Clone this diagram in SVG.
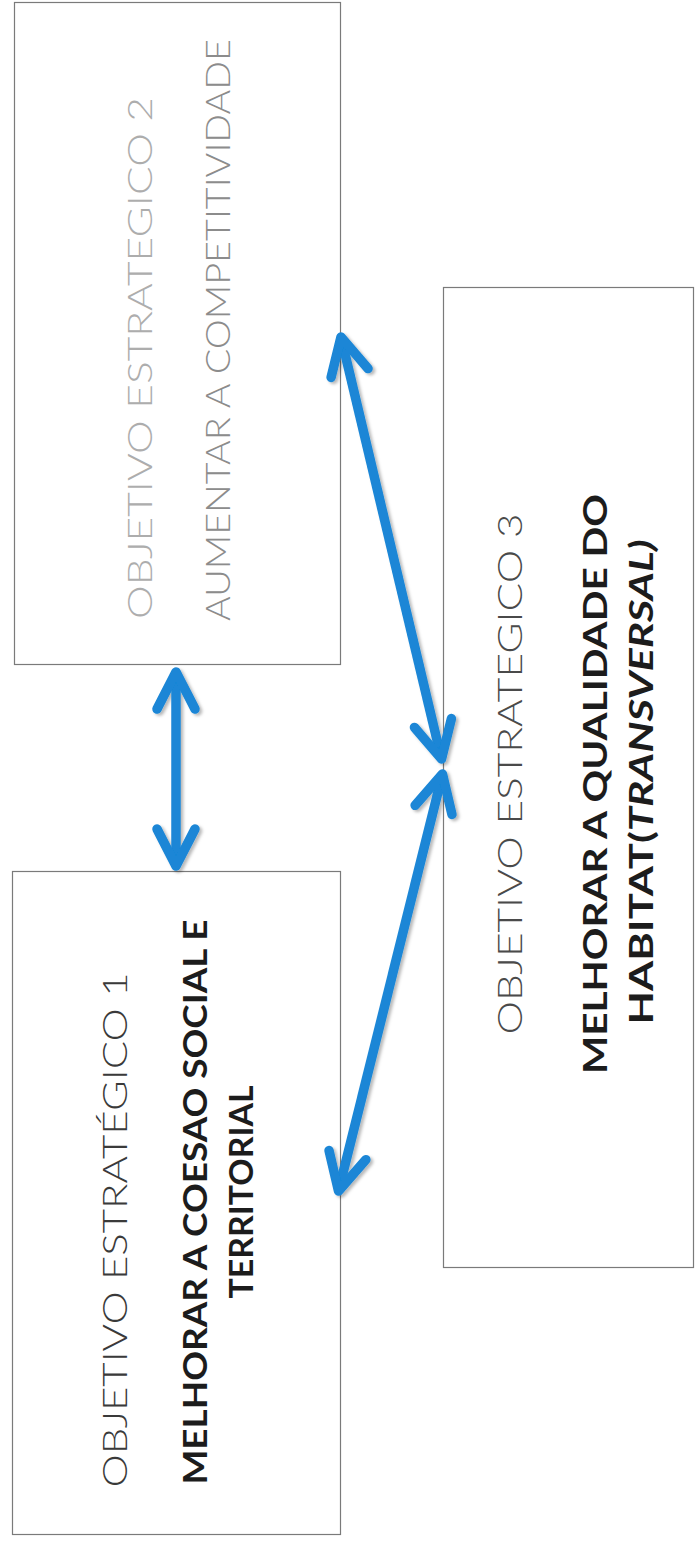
<svg xmlns="http://www.w3.org/2000/svg" width="696" height="1543" viewBox="0 0 696 1543">
  <style>
    .box { fill: #ffffff; stroke: #7a7a7a; stroke-width: 1.2; }
    .lt { font-family: Lato, "Open Sans", "Liberation Sans", sans-serif; font-weight: 300; font-size: 33px; }
    .bd { font-family: Lato, "Open Sans", "Liberation Sans", sans-serif; font-weight: 700; font-size: 33px; }
    .con { fill: none; stroke: #1a86d6; stroke-width: 9.5; stroke-linecap: butt; }
  </style>
  <defs>
    <filter id="sh" x="-20%" y="-20%" width="140%" height="140%">
      <feDropShadow dx="2.5" dy="2" stdDeviation="1.5" flood-color="#000000" flood-opacity="0.28"/>
    </filter>
    <marker id="chev" viewBox="-50 -30 60 60" markerWidth="60" markerHeight="60" refX="0" refY="0" markerUnits="userSpaceOnUse" orient="auto-start-reverse" overflow="visible">
      <path d="M -37,-19 L 0,0 L -37,19" fill="none" stroke="#1a86d6" stroke-width="9.5" stroke-linecap="round" stroke-linejoin="round"/>
    </marker>
  </defs>
  <rect width="696" height="1543" fill="#ffffff"/>

  <g id="obj2">
    <rect class="box" x="14.5" y="2.5" width="326" height="662"/>
    <text class="lt" fill="#adadad" transform="translate(152,358) rotate(-90)" text-anchor="middle" textLength="522" lengthAdjust="spacingAndGlyphs">OBJETIVO ESTRATEGICO 2</text>
    <text class="lt" fill="#8c8c8c" transform="translate(230,330) rotate(-90)" text-anchor="middle" textLength="582" lengthAdjust="spacingAndGlyphs">AUMENTAR A COMPETITIVIDADE</text>
  </g>

  <g id="obj1">
    <rect class="box" x="12.5" y="871.5" width="328" height="663"/>
    <text class="lt" fill="#3a3a3a" transform="translate(127,1230) rotate(-90)" text-anchor="middle" textLength="515" lengthAdjust="spacingAndGlyphs">OBJETIVO ESTRATÉGICO 1</text>
    <text class="bd" fill="#1c1c1c" transform="translate(207,1202) rotate(-90)" text-anchor="middle" textLength="565" lengthAdjust="spacingAndGlyphs">MELHORAR A COESAO SOCIAL E</text>
    <text class="bd" fill="#1c1c1c" transform="translate(253,1192) rotate(-90)" text-anchor="middle" textLength="213" lengthAdjust="spacingAndGlyphs">TERRITORIAL</text>
  </g>

  <g id="obj3">
    <rect class="box" x="443.5" y="287.5" width="250" height="980"/>
    <text class="lt" fill="#4a4a4a" transform="translate(522,774) rotate(-90)" text-anchor="middle" textLength="521" lengthAdjust="spacingAndGlyphs">OBJETIVO ESTRATEGICO 3</text>
    <text class="bd" fill="#1c1c1c" transform="translate(607,784) rotate(-90)" text-anchor="middle" textLength="580" lengthAdjust="spacingAndGlyphs">MELHORAR A QUALIDADE DO</text>
    <text class="bd" fill="#1c1c1c" transform="translate(653,782) rotate(-90)" text-anchor="middle" textLength="485" lengthAdjust="spacingAndGlyphs">HABITAT(<tspan font-style="italic">TRANSVERSAL)</tspan></text>
  </g>

  <g id="connectors" filter="url(#sh)">
    <path class="con" d="M176,672 L176,866" marker-start="url(#chev)" marker-end="url(#chev)"/>
    <path class="con" d="M341,337 L441.5,759" marker-start="url(#chev)" marker-end="url(#chev)"/>
    <path class="con" d="M442.5,774 L338.5,1191" marker-start="url(#chev)" marker-end="url(#chev)"/>
  </g>
</svg>
